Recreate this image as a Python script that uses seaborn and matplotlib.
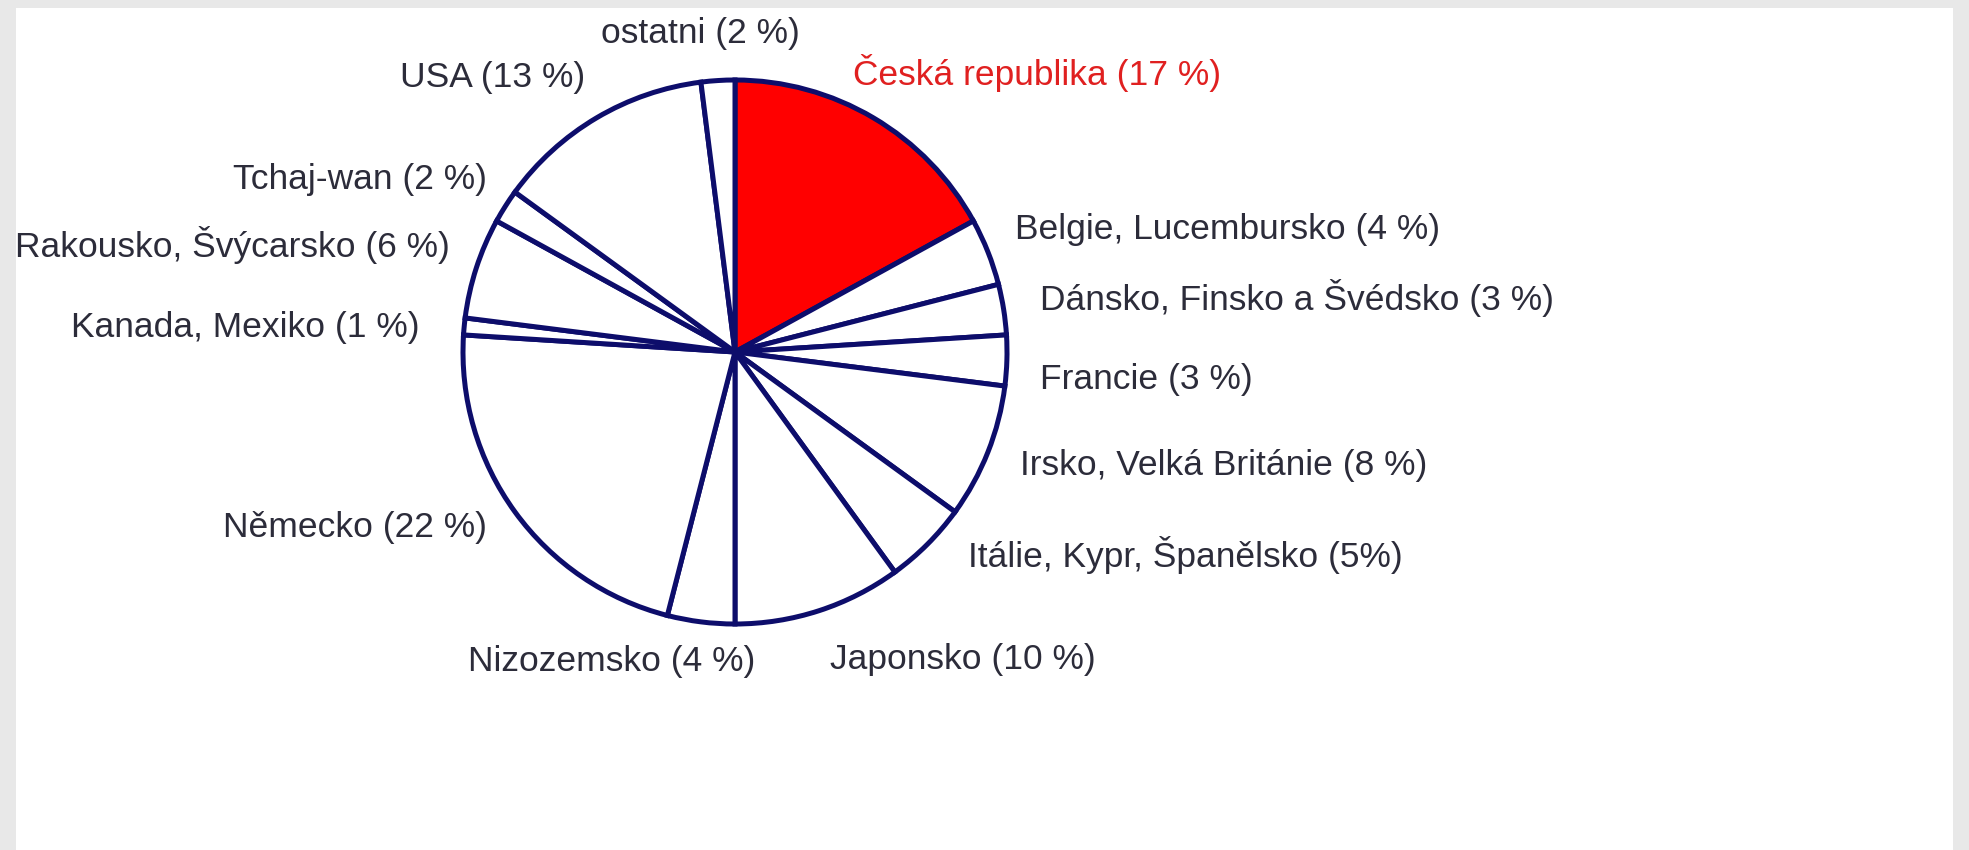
import matplotlib
matplotlib.use("Agg")
import matplotlib.pyplot as plt
import seaborn as sns

# ---- data ----
labels = ["Česká republika (17 %)", "Belgie, Lucembursko (4 %)",
          "Dánsko, Finsko a Švédsko (3 %)", "Francie (3 %)",
          "Irsko, Velká Británie (8 %)", "Itálie, Kypr, Španělsko (5%)",
          "Japonsko (10 %)", "Nizozemsko (4 %)", "Německo (22 %)",
          "Kanada, Mexiko (1 %)", "Rakousko, Švýcarsko (6 %)",
          "Tchaj-wan (2 %)", "USA (13 %)", "ostatni (2 %)"]
values = [17, 4, 3, 3, 8, 5, 10, 4, 22, 1, 6, 2, 13, 2]
highlight = "Česká republika (17 %)"

# label placement (pixel coords from top-left) and alignment
label_x = [853, 1015, 1040, 1040, 1020, 968, 830, 755, 487, 420, 450, 487, 585, 700]
label_y = [73, 230, 298, 380, 465, 555, 660, 662, 528, 328, 245, 180, 78, 33]
label_ha = ["left", "left", "left", "left", "left", "left", "left",
            "right", "right", "right", "right", "right", "right", "center"]

sns.set_theme(style="white")
plt.rcParams["font.family"] = ["Liberation Sans", "DejaVu Sans"]

W, H = 1969, 850
fig = plt.figure(figsize=(W / 100, H / 100), dpi=100, facecolor="#e8e8e8")
# white panel inside the grey frame
fig.patches.append(plt.Rectangle((16 / W, 0), (1953 - 16) / W, (H - 8) / H,
                                 transform=fig.transFigure, facecolor="white",
                                 edgecolor="none", zorder=-10))
ax = fig.add_axes([16 / W, 0, (1953 - 16) / W, (H - 8) / H])

edge = "#0d0d6b"
colors = ["#ff0000" if l == highlight else "white" for l in labels]
ax.pie(values, colors=colors, startangle=90, counterclock=False,
       center=(735, H - 352), radius=272, frame=True,
       wedgeprops=dict(edgecolor=edge, linewidth=3.6, joinstyle="miter"))
ax.set_xlim(16, 1953)
ax.set_ylim(0, H - 8)
ax.set_aspect("equal")
ax.set_axis_off()

for l, x, y, ha in zip(labels, label_x, label_y, label_ha):
    ax.text(x, H - y, l, ha=ha, va="center", fontsize=25.5,
            color="#e02020" if l == highlight else "#2c2c3a")

fig.savefig("out.png", dpi=100, facecolor=fig.get_facecolor())
